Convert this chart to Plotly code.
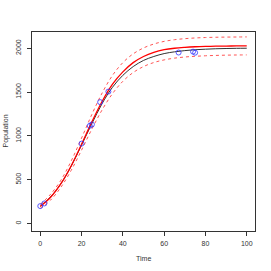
import plotly.graph_objects as go

# observed data
obs_time = [0, 2, 20, 24, 25, 29, 33, 67, 74, 75]
obs_pop = [200, 230, 912, 1115, 1130, 1385, 1505, 1950, 1960, 1948]

# curve sample times
curve_time = [0, 5, 10, 15, 20, 25, 30, 35, 40, 45, 50, 55, 60, 65, 70, 75, 80, 85, 90, 95, 100]
black_fit = [200, 305, 455, 655, 895, 1140, 1370, 1555, 1690, 1790, 1860, 1905, 1938, 1958, 1972, 1982, 1988, 1993, 1996, 1998, 1999]
red_fit = [195, 300, 455, 660, 905, 1160, 1395, 1590, 1730, 1835, 1905, 1952, 1982, 1999, 2009, 2016, 2020, 2022, 2024, 2025, 2025]
red_upper = [218, 335, 495, 715, 975, 1245, 1490, 1690, 1835, 1935, 2002, 2047, 2077, 2096, 2108, 2116, 2121, 2124, 2126, 2127, 2128]
red_lower = [175, 268, 415, 608, 838, 1078, 1298, 1482, 1622, 1722, 1790, 1836, 1866, 1886, 1899, 1907, 1913, 1917, 1920, 1922, 1923]

x_ticks = [0, 20, 40, 60, 80, 100]
y_ticks = [0, 500, 1000, 1500, 2000]

FONT = "Liberation Sans, Arial"
TXT = "#333333"

fig = go.Figure()
fig.add_trace(go.Scatter(x=curve_time, y=black_fit, mode="lines",
                         line=dict(color="#333333", width=1, shape="spline"), showlegend=False))
fig.add_trace(go.Scatter(x=curve_time, y=red_fit, mode="lines",
                         line=dict(color="#ff0000", width=1.3, shape="spline"), showlegend=False))
fig.add_trace(go.Scatter(x=curve_time, y=red_upper, mode="lines",
                         line=dict(color="#ff5555", width=1, dash="dot", shape="spline"), showlegend=False))
fig.add_trace(go.Scatter(x=curve_time, y=red_lower, mode="lines",
                         line=dict(color="#ff5555", width=1, dash="dot", shape="spline"), showlegend=False))
fig.add_trace(go.Scatter(x=obs_time, y=obs_pop, mode="markers",
                         marker=dict(symbol="circle-open", color="#3030ff", size=5, line=dict(width=0.8)),
                         showlegend=False))

axis_common = dict(showgrid=False, zeroline=False, showline=True, mirror=True, automargin=False,
                   linecolor="#333333", linewidth=1, ticks="outside", ticklen=4,
                   tickcolor="#333333", tickfont=dict(family=FONT, size=7, color=TXT))

fig.update_layout(
    width=271, height=271,
    margin=dict(l=32, r=16, t=32, b=40),
    paper_bgcolor="white", plot_bgcolor="white",
    xaxis=dict(range=[-4, 104], tickvals=x_ticks, ticktext=[str(v) for v in x_ticks],
               ticklabelstandoff=2, **axis_common),
    yaxis=dict(range=[-84, 2184], tickvals=y_ticks, ticktext=[str(v) for v in y_ticks], tickangle=-90,
               ticklabelstandoff=3, **axis_common),
    annotations=[
        dict(text="Time", xref="paper", yref="paper", x=0.5, y=-27 / 199, xanchor="center", yanchor="middle",
             showarrow=False, font=dict(family=FONT, size=7, color=TXT)),
        dict(text="Population", xref="paper", yref="paper", x=-27 / 223, y=0.5, xanchor="center", yanchor="middle",
             textangle=-90, showarrow=False, font=dict(family=FONT, size=7, color=TXT)),
    ],
)

fig.write_html("out.html", config={"displayModeBar": False},
               post_script="document.body.style.margin='0px';")
